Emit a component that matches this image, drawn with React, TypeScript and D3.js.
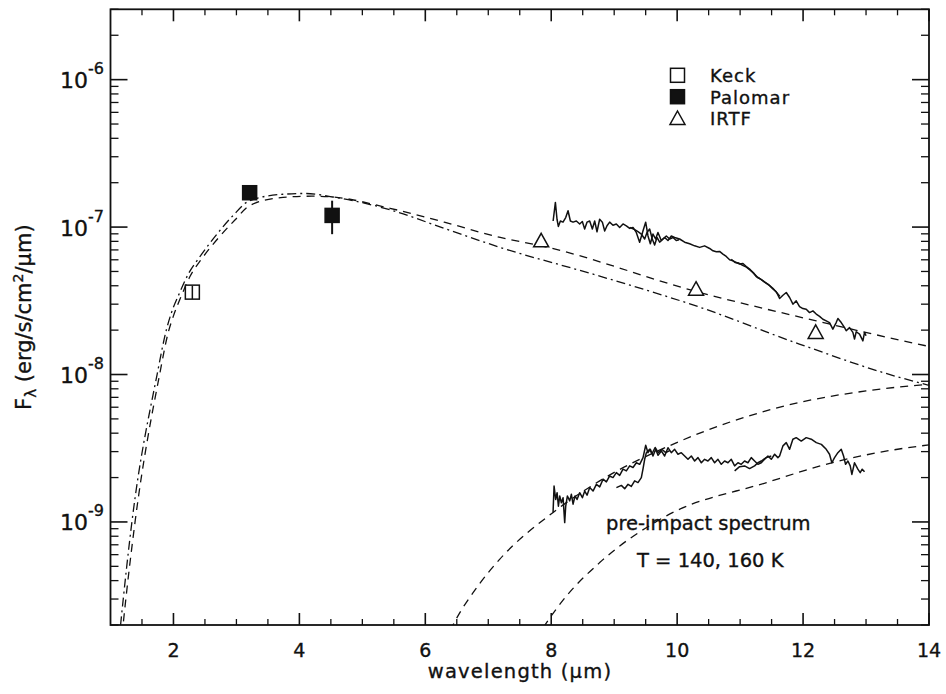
import React from "react";
import * as d3 from "d3";

// ---------- data ----------
const xMajorTicks = [2, 4, 6, 8, 10, 12, 14];
const yMajorExps = [-9, -8, -7, -6];

const keck: [number, number, number, number][] = [[2.3, 3.62e-8, 3.25e-8, 4.0e-8]];
const palomar: [number, number, number, number][] = [
  [3.21, 1.71e-7, 1.66e-7, 1.76e-7],
  [4.52, 1.2e-7, 8.95e-8, 1.51e-7],
];
const irtf: [number, number][] = [
  [7.84, 8.07e-8],
  [10.3, 3.79e-8],
  [12.2, 1.93e-8],
];

const modelDashDot: [number, number][] = [
  [1.1, 1.1e-10], [1.16, 2.0e-10], [1.34, 1.0e-9], [1.74, 1.0e-8], [1.89, 2.03e-8], [1.97, 2.64e-8],
  [2.1, 3.6e-8], [2.235, 4.8e-8], [2.42, 6.3e-8], [2.69, 8.95e-8], [2.94, 1.19e-7], [3.21, 1.51e-7],
  [3.74, 1.67e-7], [4.1, 1.69e-7], [4.53, 1.6e-7], [5.44, 1.31e-7], [6.3, 9.8e-8], [7.18, 7.3e-8],
  [8.77, 4.65e-8], [10.36, 2.86e-8], [11.94, 1.61e-8], [13.48, 9.7e-9], [14.0, 8.45e-9],
];
const modelDashed: [number, number][] = [
  [1.14, 1.1e-10], [1.2, 2.0e-10], [1.39, 1.0e-9], [1.78, 1.0e-8], [1.92, 1.95e-8], [2.0, 2.5e-8],
  [2.13, 3.45e-8], [2.26, 4.6e-8], [2.45, 6.1e-8], [2.72, 8.5e-8], [2.98, 1.12e-7], [3.21, 1.4e-7],
  [3.74, 1.59e-7], [4.2, 1.62e-7], [4.53, 1.6e-7], [5.44, 1.34e-7], [6.3, 1.08e-7], [7.19, 8.5e-8],
  [7.84, 7.46e-8], [10.36, 3.6e-8], [12.21, 2.31e-8], [13.82, 1.61e-8], [14.0, 1.55e-8],
];
const bb160: [number, number][] = [
  [6.3, 1.5e-10], [6.44, 2.0e-10], [6.86, 3.8e-10], [7.18, 5.57e-10], [8.03, 1.16e-9],
  [8.77, 1.9e-9], [9.93, 3.36e-9], [10.89, 4.84e-9], [11.94, 6.46e-9], [13.0, 7.74e-9], [14.0, 8.6e-9],
];
const bb140: [number, number][] = [
  [7.75, 1.6e-10], [7.9, 2.0e-10], [8.24, 3.14e-10], [8.77, 5.3e-10], [9.83, 1.1e-9],
  [11.42, 1.85e-9], [12.47, 2.53e-9], [13.85, 3.27e-9], [14.0, 3.33e-9],
];

const postImpactA: [number, number][] = [
  [8.03, 1.10e-7], [8.066, 1.47e-7], [8.092, 1.13e-7], [8.113, 1.01e-7], [8.145, 1.10e-7], [8.187, 1.08e-7],
  [8.23, 1.16e-7], [8.267, 1.29e-7], [8.304, 1.10e-7], [8.346, 1.08e-7], [8.399, 1.10e-7], [8.452, 1.05e-7],
  [8.494, 1.09e-7], [8.531, 9.7e-8], [8.568, 1.08e-7], [8.611, 1.10e-7], [8.653, 9.7e-8], [8.69, 1.10e-7],
  [8.727, 9.3e-8], [8.769, 1.13e-7], [8.812, 1.08e-7], [8.849, 9.4e-8], [8.886, 1.02e-7], [8.928, 1.08e-7],
  [8.981, 1.03e-7], [9.034, 1.05e-7], [9.087, 9.95e-8], [9.14, 1.05e-7], [9.193, 1.02e-7], [9.246, 9.8e-8],
  [9.299, 9.95e-8], [9.351, 9.2e-8], [9.404, 7.9e-8], [9.457, 9.4e-8], [9.5, 1.08e-7], [9.537, 8.7e-8],
  [9.574, 7.7e-8], [9.616, 8.97e-8], [9.658, 8.3e-8], [9.695, 9.2e-8], [9.748, 8.1e-8], [9.801, 8.5e-8],
  [9.854, 8.1e-8], [9.907, 8.7e-8], [9.96, 8.5e-8], [10.039, 8.3e-8], [10.119, 7.9e-8], [10.198, 7.7e-8],
  [10.277, 7.46e-8], [10.357, 7.28e-8], [10.436, 7.46e-8], [10.516, 7.16e-8], [10.569, 6.9e-8], [10.622, 6.8e-8],
  [10.674, 6.84e-8], [10.727, 6.56e-8], [10.78, 6.32e-8], [10.833, 6.0e-8], [10.886, 5.9e-8], [10.939, 5.75e-8],
  [10.992, 5.61e-8], [11.045, 5.66e-8], [11.098, 5.4e-8], [11.151, 5.19e-8], [11.204, 4.92e-8], [11.256, 4.62e-8],
  [11.309, 4.48e-8], [11.362, 4.32e-8], [11.415, 4.17e-8], [11.468, 4.0e-8], [11.521, 3.8e-8], [11.574, 3.64e-8],
  [11.627, 3.28e-8], [11.68, 3.45e-8], [11.733, 3.6e-8], [11.786, 3.33e-8], [11.839, 3.0e-8], [11.891, 3.16e-8],
  [11.944, 2.89e-8], [11.997, 2.8e-8], [12.05, 2.77e-8], [12.103, 2.63e-8], [12.156, 2.7e-8], [12.209, 2.57e-8],
  [12.262, 2.48e-8], [12.315, 2.37e-8], [12.368, 2.31e-8], [12.42, 2.25e-8], [12.473, 2.03e-8], [12.526, 2.25e-8],
  [12.553, 2.4e-8], [12.606, 2.25e-8], [12.659, 2.08e-8], [12.685, 1.98e-8], [12.738, 2.08e-8], [12.791, 1.93e-8],
  [12.817, 1.74e-8], [12.844, 1.95e-8], [12.897, 1.88e-8], [12.95, 1.69e-8], [12.976, 1.93e-8], [13.0, 1.83e-8],
];
const postImpactB1: [number, number][] = [
  [9.246, 9.95e-8], [9.325, 9.6e-8], [9.378, 9.3e-8], [9.431, 8.97e-8], [9.484, 8.3e-8], [9.521, 9.2e-8],
  [9.563, 9.7e-8], [9.605, 8.3e-8], [9.642, 7.55e-8], [9.68, 8.5e-8], [9.722, 7.9e-8], [9.775, 8.3e-8],
  [9.828, 8.7e-8], [9.881, 8.3e-8], [9.933, 8.5e-8], [9.986, 8.1e-8], [10.03, 8.2e-8],
];
const postImpactB2: [number, number][] = [
  [10.86, 6.05e-8], [10.92, 5.75e-8], [10.98, 5.7e-8], [11.04, 5.5e-8], [11.1, 5.35e-8], [11.16, 5.1e-8],
  [11.22, 4.85e-8], [11.28, 4.55e-8], [11.34, 4.4e-8], [11.4, 4.2e-8], [11.46, 4.05e-8], [11.52, 3.85e-8],
  [11.58, 3.6e-8], [11.63, 3.4e-8],
];
const preImpactA: [number, number][] = [
  [8.029, 1.16e-9], [8.045, 1.75e-9], [8.071, 1.42e-9], [8.093, 1.58e-9], [8.114, 1.28e-9], [8.135, 1.5e-9],
  [8.161, 1.35e-9], [8.188, 1.46e-9], [8.214, 9.9e-10], [8.23, 1.28e-9], [8.257, 1.5e-9], [8.294, 1.39e-9],
  [8.32, 1.54e-9], [8.347, 1.32e-9], [8.378, 1.5e-9], [8.41, 1.42e-9], [8.452, 1.58e-9], [8.495, 1.46e-9],
  [8.532, 1.62e-9], [8.569, 1.52e-9], [8.611, 1.71e-9], [8.664, 1.62e-9], [8.717, 1.8e-9], [8.77, 1.73e-9],
  [8.823, 1.95e-9], [8.876, 1.87e-9], [8.928, 2.05e-9], [8.981, 2.0e-9], [9.034, 2.16e-9], [9.087, 2.07e-9],
  [9.14, 2.28e-9], [9.193, 2.22e-9], [9.246, 2.4e-9], [9.299, 2.34e-9], [9.352, 2.52e-9], [9.405, 2.46e-9],
  [9.458, 2.73e-9], [9.5, 3.31e-9], [9.537, 2.95e-9], [9.574, 3.11e-9], [9.616, 2.8e-9], [9.659, 3.11e-9],
  [9.696, 2.83e-9], [9.749, 3.03e-9], [9.801, 2.8e-9], [9.854, 3.19e-9], [9.907, 2.95e-9], [9.96, 3.11e-9],
  [10.013, 2.88e-9], [10.066, 2.95e-9], [10.119, 2.8e-9], [10.172, 2.66e-9], [10.225, 2.8e-9], [10.278, 2.59e-9],
  [10.331, 2.73e-9], [10.384, 2.52e-9], [10.436, 2.66e-9], [10.489, 2.59e-9], [10.542, 2.73e-9], [10.595, 2.52e-9],
  [10.648, 2.66e-9], [10.701, 2.46e-9], [10.754, 2.59e-9], [10.807, 2.52e-9], [10.86, 2.66e-9], [10.913, 2.4e-9],
  [10.966, 2.52e-9], [11.018, 2.46e-9], [11.071, 2.59e-9], [11.124, 2.52e-9], [11.177, 2.73e-9], [11.23, 2.59e-9],
  [11.283, 2.46e-9], [11.336, 2.52e-9], [11.389, 2.66e-9], [11.442, 2.8e-9], [11.495, 2.66e-9], [11.548, 2.88e-9],
  [11.6, 2.73e-9], [11.627, 2.8e-9], [11.68, 3.28e-9], [11.733, 3.45e-9], [11.786, 3.11e-9], [11.838, 3.64e-9],
  [11.891, 3.73e-9], [11.971, 3.54e-9], [12.05, 3.73e-9], [12.13, 3.64e-9], [12.21, 3.45e-9], [12.29, 3.36e-9],
  [12.368, 3.11e-9], [12.42, 2.88e-9], [12.457, 2.52e-9], [12.5, 2.73e-9], [12.553, 2.95e-9], [12.606, 3.11e-9],
  [12.643, 2.8e-9], [12.675, 2.46e-9], [12.712, 2.59e-9], [12.749, 2.4e-9], [12.775, 2.1e-9], [12.817, 2.52e-9],
  [12.87, 2.28e-9], [12.907, 2.16e-9], [12.939, 2.28e-9], [12.976, 2.19e-9],
];
const preImpactB1: [number, number][] = [
  [9.035, 1.71e-9], [9.114, 1.77e-9], [9.167, 1.68e-9], [9.22, 1.8e-9], [9.272, 1.74e-9], [9.325, 1.9e-9],
  [9.378, 1.85e-9], [9.431, 2.0e-9], [9.457, 2.28e-9], [9.484, 2.66e-9], [9.511, 2.95e-9], [9.563, 3.11e-9],
  [9.6, 2.9e-9], [9.65, 3.2e-9], [9.7, 2.95e-9], [9.76, 3.1e-9], [9.82, 2.95e-9], [9.88, 3.05e-9],
];
const preImpactB2: [number, number][] = [
  [10.913, 2.22e-9], [10.992, 2.37e-9], [11.071, 2.4e-9], [11.15, 2.3e-9], [11.23, 2.4e-9], [11.283, 2.52e-9],
  [11.336, 2.59e-9], [11.415, 2.73e-9], [11.495, 2.8e-9],
];

const legendItems = ["Keck", "Palomar", "IRTF"];

// ---------- layout ----------
const W = 946, H = 694;
const L = 110.5, R = 929, T = 9.3, B = 625;
const FONT = "'DejaVu Sans', sans-serif";

export default function App() {
  const x = d3.scaleLinear().domain([1, 14]).range([L, R]);
  const y = d3.scaleLog().domain([2e-10, 3e-6]).range([B, T]);

  const smooth = d3.line<[number, number]>().x(d => x(d[0])).y(d => y(d[1])).curve(d3.curveMonotoneX);
  const raw = d3.line<[number, number]>().x(d => x(d[0])).y(d => y(d[1]));

  const xMinor = d3.range(1.5, 14, 0.5).filter(v => !xMajorTicks.includes(v));
  const yAll = y.ticks();
  const isMajor = (v: number) => Math.abs(Math.log10(v) - Math.round(Math.log10(v))) < 1e-6;

  const sq = 7;
  const tri = (cx: number, cy: number) => `M${cx},${cy - 7.5}L${cx + 7.5},${cy + 6}L${cx - 7.5},${cy + 6}Z`;

  return (
    <svg width={W} height={H} style={{ position: "absolute", left: 0, top: 0, background: "#fff" }} fontFamily={FONT}>
      <defs>
        <clipPath id="plot"><rect x={L} y={T} width={R - L} height={B - T} /></clipPath>
      </defs>

      {/* model curves */}
      <g clipPath="url(#plot)" fill="none" stroke="#111" strokeWidth={1.3}>
        <path d={smooth(modelDashDot) || ""} strokeDasharray="9 4 2 4" />
        <path d={smooth(modelDashed) || ""} strokeDasharray="8 6" />
        <path d={smooth(bb160) || ""} strokeDasharray="8 6" />
        <path d={smooth(bb140) || ""} strokeDasharray="8 6" />
      </g>

      {/* spectra */}
      <g fill="none" stroke="#111" strokeWidth={1.5} strokeLinejoin="round">
        {[postImpactA, postImpactB1, postImpactB2, preImpactA, preImpactB1, preImpactB2].map((s, i) => (
          <path key={i} d={raw(s) || ""} />
        ))}
      </g>

      {/* data points */}
      <g stroke="#111" strokeWidth={1.5}>
        {keck.map((d, i) => (
          <g key={i}>
            <rect x={x(d[0]) - sq} y={y(d[1]) - sq} width={2 * sq} height={2 * sq} fill="#fff" />
            <line x1={x(d[0])} x2={x(d[0])} y1={y(d[2])} y2={y(d[3])} />
          </g>
        ))}
        {palomar.map((d, i) => (
          <g key={i}>
            <line x1={x(d[0])} x2={x(d[0])} y1={y(d[2])} y2={y(d[3])} strokeWidth={2} />
            <rect x={x(d[0]) - sq} y={y(d[1]) - sq} width={2 * sq} height={2 * sq} fill="#111" />
          </g>
        ))}
        {irtf.map((d, i) => (
          <path key={i} d={tri(x(d[0]), y(d[1]))} fill="#fff" />
        ))}
      </g>

      {/* frame and ticks */}
      <g stroke="#111" fill="none">
        <rect x={L} y={T} width={R - L} height={B - T} strokeWidth={1.8} />
        {xMajorTicks.map(v => (
          <g key={"xm" + v} strokeWidth={1.6}>
            <line x1={x(v)} x2={x(v)} y1={B} y2={B - 12} />
            <line x1={x(v)} x2={x(v)} y1={T} y2={T + 12} />
          </g>
        ))}
        {xMinor.map(v => (
          <g key={"xn" + v} strokeWidth={1.3}>
            <line x1={x(v)} x2={x(v)} y1={B} y2={B - 6} />
            <line x1={x(v)} x2={x(v)} y1={T} y2={T + 6} />
          </g>
        ))}
        {yAll.map((v, i) => {
          const len = isMajor(v) ? 17 : 8;
          return (
            <g key={"y" + i} strokeWidth={isMajor(v) ? 1.6 : 1.3}>
              <line x1={L} x2={L + len} y1={y(v)} y2={y(v)} />
              <line x1={R} x2={R - len} y1={y(v)} y2={y(v)} />
            </g>
          );
        })}
      </g>

      {/* tick labels */}
      <g fill="#111" stroke="#111" strokeWidth={0.35}>
        {xMajorTicks.map(v => (
          <text key={"xl" + v} x={x(v)} y={657} fontSize={19} textAnchor="middle">{v}</text>
        ))}
        {yMajorExps.map(e => (
          <text key={"yl" + e} x={104} y={y(Math.pow(10, e)) + 8.5} fontSize={22} textAnchor="end">
            10<tspan fontSize={16} dy={-14}>{"-" + Math.abs(e)}</tspan>
          </text>
        ))}
      </g>

      {/* axis titles */}
      <g fill="#111" stroke="#111" strokeWidth={0.35}>
        <text x={520} y={678} fontSize={19.5} letterSpacing={1.2} textAnchor="middle">wavelength (μm)</text>
        <text transform={`translate(31,${(T + B) / 2}) rotate(-90)`} fontSize={21} textAnchor="middle">
          F<tspan fontSize={15} dy={5}>λ</tspan><tspan dy={-5}> (erg/s/cm</tspan><tspan fontSize={14} dy={-8}>2</tspan><tspan dy={8}>/μm)</tspan>
        </text>
      </g>

      {/* legend */}
      <g stroke="#111" strokeWidth={1.5}>
        <rect x={677.5 - sq} y={75.3 - sq} width={2 * sq} height={2 * sq} fill="#fff" />
        <rect x={677.5 - sq} y={96.7 - sq} width={2 * sq} height={2 * sq} fill="#111" />
        <path d={tri(677.5, 118.5)} fill="#fff" />
      </g>
      <g fill="#111" stroke="#111" strokeWidth={0.35} fontSize={18} letterSpacing={1}>
        {legendItems.map((t, i) => (
          <text key={t} x={710} y={82 + i * 21.5}>{t}</text>
        ))}
      </g>

      {/* annotations */}
      <g fill="#111" stroke="#111" strokeWidth={0.35} fontSize={19.5}>
        <text x={606} y={530}>pre-impact spectrum</text>
        <text x={637} y={567}>T = 140, 160 K</text>
      </g>
    </svg>
  );
}
